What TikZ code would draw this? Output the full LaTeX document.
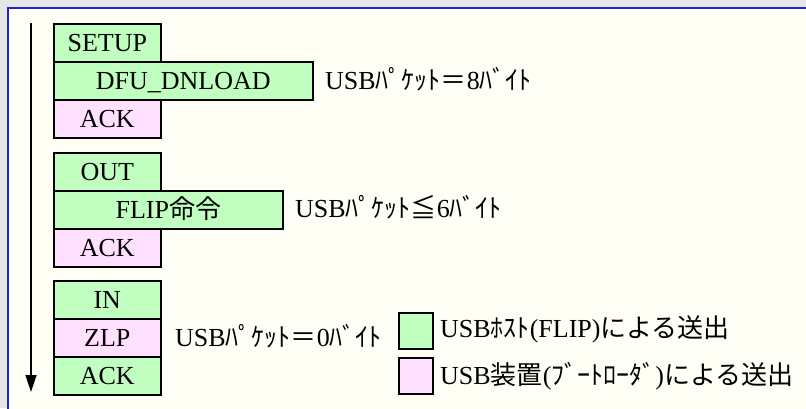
\documentclass[tikz,border=0pt]{standalone}
\usepackage{fontspec}
\setmainfont{Liberation Serif}
\newfontfamily\jp{Noto Sans CJK JP}
\usetikzlibrary{arrows.meta}
\definecolor{bggray}{HTML}{E6E6E6}
\definecolor{ivorybg}{HTML}{FFFFF5}
\definecolor{frameblue}{HTML}{2020D8}
\definecolor{pktgreen}{HTML}{C0FFC0}
\definecolor{pktpink}{HTML}{FFE0FF}
\begin{document}
\begin{tikzpicture}[x=1pt,y=-1pt,
  font=\fontsize{26}{31}\selectfont,
  pkt/.style={draw=black, line width=1.6pt, anchor=north west, minimum height=38pt,
    inner sep=0pt, text height=20.5pt, text depth=3.3pt},
  host/.style={pkt, fill=pktgreen},
  dev/.style={pkt, fill=pktpink},
  lbl/.style={anchor=west, inner sep=0pt, text height=20.5pt, text depth=3.3pt},
  keybox/.style={draw=black, line width=1.6pt, minimum width=34pt, minimum height=36pt,
    anchor=north west, inner sep=0pt},
  timeline/.style={line width=1.5pt, -{Triangle[width=11pt,length=17pt]}}]
\useasboundingbox (0,0) rectangle (806,408);
\begin{scope}
\clip (0,0) rectangle (806,408);
\fill[bggray] (0,0) rectangle (806,408);
\draw[frameblue, line width=2pt, fill=ivorybg] (8,8) rectangle (830,430);
\end{scope}

% time axis
\coordinate (tstart) at (31,23);
\coordinate (tend) at (31,392);
\draw[timeline] (tstart) -- (tend);

% group 1
\node[host, minimum width=107pt] (setup) at (53,23) {SETUP};
\node[host, minimum width=259pt] (dfu) at (53,61) {DFU\_DNLOAD};
\node[dev, minimum width=107pt] (ack1) at (53,99) {ACK};
\node[lbl] (l1) at (325,81) {USB{\jp ﾊﾟｹｯﾄ＝}8{\jp ﾊﾞｲﾄ}};

% group 2
\node[host, minimum width=107pt] (out) at (53,152) {OUT};
\node[host, minimum width=229pt] (flip) at (53,190) {FLIP{\jp 命令}};
\node[dev, minimum width=107pt] (ack2) at (53,228) {ACK};
\node[lbl] (l2) at (295,209) {USB{\jp ﾊﾟｹｯﾄ≦}6{\jp ﾊﾞｲﾄ}};

% group 3
\node[host, minimum width=107pt] (in) at (53,280) {IN};
\node[dev, minimum width=107pt] (zlp) at (53,318) {ZLP};
\node[host, minimum width=107pt] (ack3) at (53,356) {ACK};
\node[lbl] (l3) at (175,338) {USB{\jp ﾊﾟｹｯﾄ＝}0{\jp ﾊﾞｲﾄ}};

% legend
\node[keybox, fill=pktgreen] (kg) at (398,312) {};
\node[keybox, fill=pktpink] (kp) at (398,357) {};
\node[lbl] (kgt) at (440,329) {USB{\jp ﾎｽﾄ}(FLIP){\jp による送出}};
\node[lbl] (kpt) at (440,376) {USB{\jp 装置}({\jp ﾌﾞｰﾄﾛｰﾀﾞ}){\jp による送出}};
\end{tikzpicture}
\end{document}
